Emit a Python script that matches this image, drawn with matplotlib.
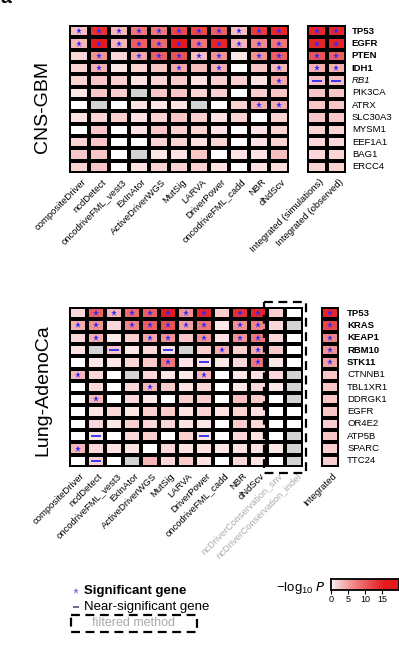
import numpy as np
import matplotlib
matplotlib.use('Agg')
import matplotlib.pyplot as plt
from matplotlib.colors import LinearSegmentedColormap, PowerNorm
from matplotlib.patches import Rectangle

plt.rcParams['font.family'] = ['Liberation Sans', 'DejaVu Sans']

nan = np.nan

# ---------------- data: CNS-GBM ----------------
gbm_methods = ['compositeDriver', 'ncdDetect', 'oncodriveFML_vest3', 'ExInAtor',
               'ActiveDriverWGS', 'MutSig', 'LARVA', 'DriverPower',
               'oncodriveFML_cadd', 'NBR', 'dNdScv']
gbm_int_labels = ['Integrated (simulations)', 'Integrated (observed)']
gbm_genes = ['TP53', 'EGFR', 'PTEN', 'IDH1', 'RB1', 'PIK3CA', 'ATRX',
             'SLC30A3', 'MYSM1', 'EEF1A1', 'BAG1', 'ERCC4']
gbm_bold = ['TP53', 'EGFR', 'PTEN', 'IDH1']
gbm_italic = ['RB1']
gbm_vals = [
    [3.0, 14, 3.5, 8, 8, 12, 12, 10, 3.0, 13, 15],
    [3.5, 16, 3.5, 10, 9, 16, 8, 15, 3.5, 6.5, 8],
    [1.5, 6, 1.5, 4.5, 10, 11, 3, 6, 0.8, 6, 10],
    [1.8, 4, 0.8, 1.8, 2.5, 4.5, 3, 4, 0, 2.5, 3.5],
    [1.8, 2.5, 2, 1, 1.8, 2.3, 1, 2, 2, 1, 4.5],
    [0.8, 2.5, 2, nan, 2.5, 2.5, 1.8, 2, 0, 2, 2.5],
    [0, nan, 0, 1, 0.8, 1, nan, 0, 1.8, 4, 4],
    [1, 1.8, 2, 1, 1.8, 2.5, 2, 1, 1.8, 0, 1.8],
    [0, 2.5, 0, 1, 2.5, 2, 1.8, 1, 0, 1, 1.8],
    [1.8, 2.5, 0, 0, 1.8, 1.8, 1, 1.8, 0, 1, 1.8],
    [2.5, 2.5, 0, nan, 0.8, 1, 2.5, 0, 1, 1, 3],
    [1.8, 2.5, 0, 1, 1.8, 1.8, 1.8, 1, 0, 1, 1.2],
]
gbm_marks = [
    '***********',
    '***********',
    '.*.*****.**',
    '.*...*.*..*',
    '..........*',
    '...........',
    '.........**',
    '...........',
    '...........',
    '...........',
    '...........',
    '...........',
]
gbm_int_vals = [
    [15, 15], [15, 15], [11, 10], [4, 4], [3, 3], [2.5, 2.5],
    [2.5, 2.5], [2.5, 2.5], [1.8, 1.8], [1.5, 1.5], [1.5, 1.8], [1.8, 1.8],
]
gbm_int_marks = ['**', '**', '**', '**', '--', '..', '..', '..', '..', '..', '..', '..']

# ---------------- data: Lung-AdenoCa ----------------
luad_methods = gbm_methods + ['ncDriverConservation_snv', 'ncDriverConservation_indel']
luad_filtered = ['ncDriverConservation_snv', 'ncDriverConservation_indel']
luad_int_labels = ['Integrated']
luad_genes = ['TP53', 'KRAS', 'KEAP1', 'RBM10', 'STK11', 'CTNNB1', 'TBL1XR1',
              'DDRGK1', 'EGFR', 'OR4E2', 'ATP5B', 'SPARC', 'TTC24']
luad_bold = ['TP53', 'KRAS', 'KEAP1', 'RBM10', 'STK11']
luad_vals = [
    [1.5, 10, 3.5, 9, 10, 16, 6, 15, 2, 14, 15, 2, 0],
    [4, 6, 1.5, 7, 10, 11, 5, 8, 0.8, 6, 7, 1.5, nan],
    [1.5, 4, 0.8, 2, 4.5, 6, 2.5, 6, 1, 6, 8, 1.5, 0],
    [1, nan, 2.5, 0.8, 1.5, 1.2, nan, 2, 4, 2, 4.5, 2.3, 0],
    [0, 0.8, 0.8, 1.5, 2.3, 8, 1, 1, 0.8, 1.5, 8, 0.8, 0],
    [3.5, 1.5, 0, nan, 1.5, 0.8, 0.8, 3.5, 0, 0.8, 1, 1.5, nan],
    [0, 1.5, 0, 1.5, 3.5, 2.2, 1, 1.5, 0, 0.8, 1.5, 0.8, nan],
    [0, 3.5, 0, 1.5, 0.8, 0, 2.2, 2.2, 0, 3, 2.2, 0, nan],
    [0, 0.8, 1.5, 0.8, 2, 2.2, 1, 1.8, 1, 1.8, 1.2, 0, 0],
    [0, 1.5, 0.8, 2, 1.5, 1.5, 1, 0.8, 0, 2.2, 1.5, 0, 0],
    [0, 0.8, 0, 1.5, 2, 0, 2, 1, 0, 1.5, 1, 0, nan],
    [3.5, 1.5, 1, 1, 0, 1.5, 1, 1, 0.8, 1, 1, 0.8, nan],
    [0, 2, 0, nan, 3.5, 1.5, 2.3, 1, 0, 1.5, 1, 0, nan],
]
luad_marks = [
    '.*******.**..',
    '**.*****.**..',
    '.*..**.*.**..',
    '..-..-..*.*..',
    '.....*.-..*..',
    '*......*.....',
    '....*........',
    '.*...........',
    '.............',
    '.............',
    '.-.....-.....',
    '*............',
    '.-...........',
]
luad_int_vals = [[15], [12], [7], [6], [5], [2.5], [2.5], [2.5], [2.5], [2], [2.5], [2], [2]]
luad_int_marks = ['*', '*', '*', '*', '*', '.', '.', '.', '.', '.', '.', '.', '.']

cbar_ticks = [0, 5, 10, 15]

# ---------------- style ----------------
W, H = 399, 645
fig = plt.figure(figsize=(W / 100, H / 100), dpi=100)

cmap = LinearSegmentedColormap.from_list('wr', ['#FFFFFF', '#E41A1C'])
cmap.set_bad('#D3D3D3')
norm = PowerNorm(gamma=0.75, vmin=0, vmax=16, clip=True)
STAR_C = '#2A2AFF'
FS = 6.8


def add_ax(x0, x1, y0, y1):
    return fig.add_axes([x0 / W, 1 - y1 / H, (x1 - x0) / W, (y1 - y0) / H])


def heat(ax, vals, marks):
    M = np.ma.masked_invalid(np.array(vals, dtype=float))
    nr, nc = M.shape
    ax.pcolormesh(M, cmap=cmap, norm=norm, edgecolors='black', linewidth=1.5)
    ax.set_xlim(0, nc)
    ax.set_ylim(nr, 0)
    ax.axis('off')
    for i, row in enumerate(marks):
        for j, m in enumerate(row):
            if m == '*':
                ax.plot(j + 0.5, i + 0.5, marker='*', color=STAR_C, ms=4.5,
                        mew=0, zorder=5, clip_on=False)
            elif m == '-':
                ax.plot(j + 0.5, i + 0.5, marker='_', color=STAR_C, ms=7,
                        mew=1.3, zorder=5, clip_on=False)
    return nr, nc


def col_labels(ax, labels, nr, gray=()):
    for j, lab in enumerate(labels):
        ax.text(j + 0.62, nr + 0.35, lab, rotation=45, ha='right', va='top',
                rotation_mode='anchor', fontsize=FS,
                color='#AAAAAA' if lab in gray else 'black')


def gene_labels(ax, genes, nc, dx, bold, italic=()):
    for i, g in enumerate(genes):
        ax.text(nc + dx, i + 0.5, g, ha='left', va='center', fontsize=FS,
                fontweight='bold' if g in bold else 'normal',
                fontstyle='italic' if g in italic else 'normal')


# ---- CNS-GBM
ax1 = add_ax(69, 289, 25, 173)
nr, nc = heat(ax1, gbm_vals, gbm_marks)
col_labels(ax1, gbm_methods, nr)
ax2 = add_ax(307, 346, 25, 173)
nr2, nc2 = heat(ax2, gbm_int_vals, gbm_int_marks)
col_labels(ax2, gbm_int_labels, nr2)
gene_labels(ax2, gbm_genes, nc2, 0.3, gbm_bold, gbm_italic)
fig.text(43 / W, 1 - 107 / H, 'CNS-GBM', rotation=90, fontsize=14,
         ha='center', va='center')

# ---- Lung-AdenoCa
ax3 = add_ax(69, 303, 307, 467)
nr3, nc3 = heat(ax3, luad_vals, luad_marks)
col_labels(ax3, luad_methods, nr3, gray=luad_filtered)
nf = len(luad_filtered)
ax3.add_patch(Rectangle((nc3 - nf - 0.15, -0.4), nf + 0.3, nr3 + 0.9,
                        fill=False, ec='black', lw=1.6,
                        ls=(0, (4, 2.5)), clip_on=False, zorder=6))
ax4 = add_ax(321, 339, 307, 467)
nr4, nc4 = heat(ax4, luad_int_vals, luad_int_marks)
col_labels(ax4, luad_int_labels, nr4)
gene_labels(ax4, luad_genes, nc4, 0.45, luad_bold)
fig.text(43 / W, 1 - 390 / H, 'Lung-AdenoCa', rotation=90, fontsize=14,
         ha='center', va='center')

# ---- legend
lg = fig.add_axes([0, 0, 1, 1], zorder=-1)
lg.set_xlim(0, W)
lg.set_ylim(H, 0)
lg.axis('off')
lg.plot(76, 591, marker='*', color='#7777DD', ms=5, mew=0)
lg.text(84, 591, 'Significant gene', fontsize=9.5, fontweight='bold',
        va='center', ha='left')
lg.plot(76, 607, marker='_', color='#444466', ms=5, mew=1.1)
lg.text(84, 607, 'Near-significant gene', fontsize=9.5, va='center', ha='left')
lg.add_patch(Rectangle((71, 615), 126, 17, fill=False, ec='black', lw=1.6,
                       ls=(0, (4, 2.5))))
lg.text(134, 623.5, 'filtered method', fontsize=9, color='#AAAAAA',
        ha='center', va='center')
lg.text(326, 588, r'$\mathregular{-log_{10}}$ $\mathit{P}$', fontsize=9.5,
        ha='right', va='center')
fig.text(0.002, 1 - 3 / H, 'a', fontsize=14, fontweight='bold',
         va='baseline', ha='left')

# ---- colorbar
cax = add_ax(331, 399, 579, 590)
grad = np.linspace(0, 20, 256)[None, :]
cax.imshow(grad, cmap=cmap, norm=norm, aspect='auto', extent=(0, 20, 0, 1))
cax.set_xlim(0, 20)
cax.set_yticks([])
cax.set_xticks(cbar_ticks)
cax.tick_params(axis='x', length=3, width=0.8, labelsize=6.5, pad=0.5)
for s in cax.spines.values():
    s.set_linewidth(1.3)

fig.savefig('out.png', dpi=100)
